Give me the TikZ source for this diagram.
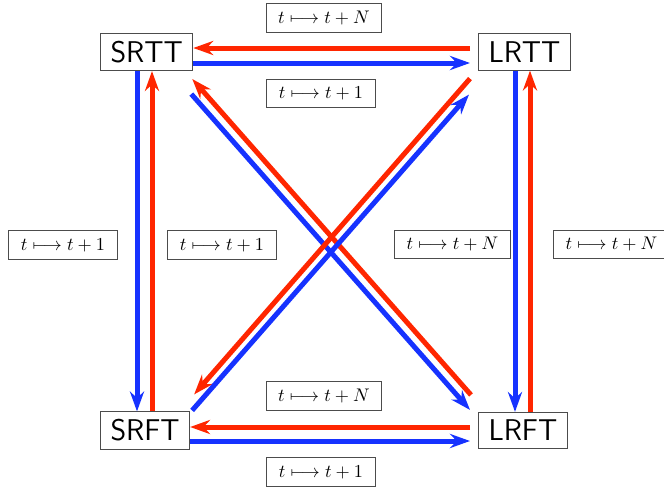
\documentclass[tikz,border=0pt]{standalone}
\usetikzlibrary{arrows.meta,calc}
\definecolor{arrred}{RGB}{255,38,0}
\definecolor{arrblue}{RGB}{22,50,255}
\begin{document}
\begin{tikzpicture}[
            x=0.6pt,
            y=-0.6pt,
            state/.style={
                draw=black!70,
                line width=0.6pt,
                anchor=west,
                inner xsep=6pt,
                inner ysep=4.6pt,
                font=\sffamily\fontsize{18}{20}\selectfont
            },
            lab/.style={
                draw=black!70,
                line width=0.6pt,
                inner xsep=7.2pt,
                inner ysep=4.5pt,
                font=\fontsize{11}{13}\selectfont
            },
            redarr/.style={
                draw=arrred,
                line width=3pt,
                -{Stealth[length=12pt,width=8.5pt,inset=4pt]}
            },
            bluearr/.style={
                draw=arrblue,
                line width=3pt,
                -{Stealth[length=12pt,width=8.5pt,inset=4pt]}
            }
        ]
            \useasboundingbox (0,0) rectangle (664,493);

            \node[state] (SRTT) at (100,52) {SRTT};
            \node[state] (LRTT) at (478,52) {LRTT};
            \node[state] (SRFT) at (100,430.5) {SRFT};
            \node[state] (LRFT) at (478,430.5) {LRFT};

            \node[lab] (topN) at (324,18) {$t\longmapsto t+N$};
            \node[lab] (topone) at (321,93.5) {$t\longmapsto t+1$};
            \node[lab] (botN) at (324,396) {$t\longmapsto t+N$};
            \node[lab] (botone) at (321,472) {$t\longmapsto t+1$};
            \node[lab] (leftone) at (63,245) {$t\longmapsto t+1$};
            \node[lab] (midone) at (222,245) {$t\longmapsto t+1$};
            \node[lab] (midN) at (452.5,244.5) {$t\longmapsto t+N$};
            \node[lab] (rightN) at (611.5,244.5) {$t\longmapsto t+N$};

            \draw[redarr] ($(LRTT.west)+(-8,-4)$) -- ($(SRTT.east)+(0,-4)$);
            \draw[bluearr] ($(SRTT.east)+(0,11)$) -- ($(LRTT.west)+(-8,11)$);
            \draw[redarr] ($(LRFT.west)+(-8,-3.5)$) -- ($(SRFT.east)+(0,-3.5)$);
            \draw[bluearr] ($(SRFT.east)+(0,10.5)$) -- ($(LRFT.west)+(-8,10.5)$);

            \draw[bluearr] ($(SRTT.south west)+(37,0)$) -- ($(SRFT.north west)+(37,0)$);
            \draw[redarr] ($(SRFT.north west)+(52,0)$) -- ($(SRTT.south west)+(52,0)$);
            \draw[bluearr] ($(LRTT.south west)+(37,0)$) -- ($(LRFT.north west)+(37,0)$);
            \draw[redarr] ($(LRFT.north west)+(52,0)$) -- ($(LRTT.south west)+(52,0)$);

            \draw[redarr] ($(LRFT.north west)+(-7,-17)$) -- ($(SRTT.south east)+(-1,8)$);
            \draw[bluearr] ($(SRTT.south east)+(-2,23)$) -- ($(LRFT.north west)+(-8,-2)$);
            \draw[redarr] ($(LRTT.south west)+(-8,8)$) -- ($(SRFT.north east)+(4,-17)$);
            \draw[bluearr] ($(SRFT.north east)+(2,-1)$) -- ($(LRTT.south west)+(-9,24)$);
        \end{tikzpicture}
\end{document}
